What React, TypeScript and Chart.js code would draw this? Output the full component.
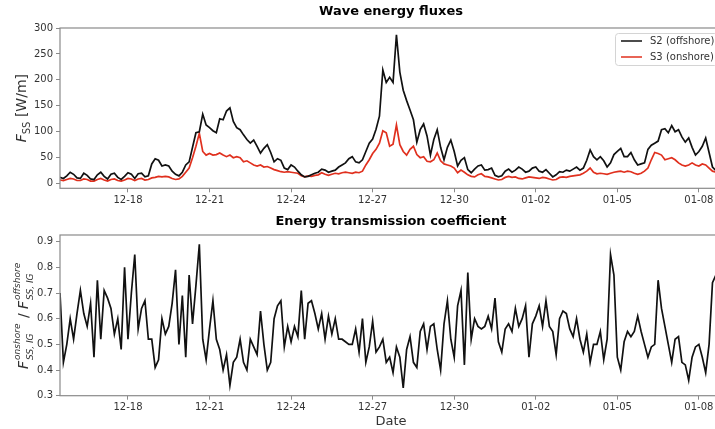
import React, { useEffect, useRef } from 'react';
import { Chart, registerables } from 'chart.js';

Chart.register(...registerables);

// ---- data (time in days since 12-15 00:00, 3-hour sampling) ----
const START_DAY = 0.5;
const STEP_DAYS = 0.125;
const X_MIN = 0.5;
const X_MAX = 24.85;

const tickDays = [3, 6, 9, 12, 15, 18, 21, 24];
const tickLabels = ['12-18', '12-21', '12-24', '12-27', '12-30', '01-02', '01-05', '01-08'];

const fluxTicks = [0, 50, 100, 150, 200, 250, 300];
const coefTicks = [0.3, 0.4, 0.5, 0.6, 0.7, 0.8, 0.9];

const s2Offshore = [
  12, 10, 15, 22, 18, 11, 10, 20, 16, 9,
  8, 17, 22, 14, 9, 18, 20, 12, 8, 14,
  21, 18, 10, 19, 20, 13, 15, 38, 48, 45,
  34, 36, 34, 24, 18, 15, 22, 36, 42, 70,
  98, 100, 134, 113, 108, 102, 98, 125, 123, 140,
  146, 120, 108, 104, 94, 85, 78, 84, 72, 59,
  68, 75, 60, 42, 48, 45, 30, 27, 36, 32,
  24, 17, 13, 14, 17, 20, 22, 28, 26, 22,
  24, 26, 32, 36, 40, 48, 52, 42, 40, 46,
  62, 78, 86, 105, 130, 219, 195, 205, 195, 287,
  215, 180, 160, 142, 123, 80, 104, 115, 92, 55,
  85, 104, 70, 46, 70, 84, 62, 34, 45, 50,
  27, 21, 28, 34, 36, 26, 27, 30, 16, 13,
  15, 24, 28, 22, 26, 32, 28, 22, 24, 30,
  32, 24, 22, 27, 20, 13, 17, 23, 22, 26,
  24, 28, 32, 26, 30, 45, 65, 52, 46, 52,
  44, 32, 40, 56, 62, 68, 52, 52, 60, 46,
  36, 38, 40, 66, 74, 78, 82, 104, 106, 98,
  112, 100, 104, 90, 80, 88, 70, 55, 62, 72,
  88, 60, 32, 25, 22, 20,
];

const s3Onshore = [
  7, 6, 8, 10, 9, 6, 6, 9, 8, 5,
  5, 8, 10, 7, 5, 8, 9, 6, 5, 7,
  10, 9, 6, 9, 10, 7, 8, 11, 12, 14,
  13, 14, 13, 10, 8, 9, 14, 22, 30, 50,
  72, 97, 62, 55, 58, 55, 56, 59, 55, 52,
  55, 50, 52, 50, 42, 44, 40, 36, 34, 36,
  32, 33, 30, 27, 25, 23, 22, 23, 22, 21,
  20, 15, 13, 15, 14, 16, 17, 21, 18, 16,
  18, 20, 19, 21, 22, 21, 20, 22, 21, 24,
  36, 46, 58, 66, 78, 102, 98, 72, 76, 113,
  75, 62, 55, 66, 72, 56, 50, 52, 43, 42,
  46, 59, 44, 38, 36, 34, 30, 21, 26, 22,
  17, 14, 13, 17, 19, 14, 13, 11, 9, 7,
  8, 12, 14, 12, 13, 10, 9, 11, 13, 12,
  11, 10, 12, 11, 9, 7, 8, 12, 13, 12,
  14, 15, 16, 17, 20, 24, 30, 22, 19, 20,
  19, 18, 20, 22, 23, 24, 22, 24, 23, 20,
  18, 20, 24, 30, 46, 60, 58, 55, 46, 48,
  50, 46, 40, 36, 34, 36, 40, 36, 34, 38,
  36, 30, 24, 22, 23, 24,
];

const transmission = [
  0.70, 0.43, 0.50, 0.60, 0.52, 0.62, 0.71, 0.62, 0.57, 0.66,
  0.45, 0.75, 0.52, 0.71, 0.68, 0.64, 0.54, 0.60, 0.48, 0.80,
  0.52, 0.70, 0.85, 0.56, 0.64, 0.67, 0.52, 0.52, 0.41, 0.44,
  0.60, 0.54, 0.57, 0.66, 0.79, 0.50, 0.69, 0.45, 0.77, 0.58,
  0.73, 0.89, 0.52, 0.44, 0.56, 0.67, 0.52, 0.48, 0.40, 0.46,
  0.34, 0.43, 0.45, 0.52, 0.43, 0.40, 0.52, 0.49, 0.46, 0.63,
  0.50, 0.40, 0.43, 0.60, 0.65, 0.67, 0.49, 0.57, 0.51, 0.57,
  0.53, 0.71, 0.52, 0.66, 0.67, 0.62, 0.56, 0.62, 0.52, 0.61,
  0.54, 0.60, 0.52, 0.52, 0.51, 0.50, 0.50, 0.56, 0.47, 0.60,
  0.43, 0.49, 0.59, 0.47, 0.49, 0.52, 0.43, 0.45, 0.39, 0.49,
  0.45, 0.33, 0.48, 0.53, 0.43, 0.41, 0.55, 0.58, 0.48, 0.57,
  0.58, 0.48, 0.40, 0.58, 0.67, 0.52, 0.45, 0.65, 0.71, 0.42,
  0.78, 0.52, 0.60, 0.57, 0.56, 0.57, 0.61, 0.56, 0.68, 0.51,
  0.47, 0.56, 0.58, 0.55, 0.64, 0.57, 0.60, 0.65, 0.45, 0.58,
  0.61, 0.65, 0.57, 0.67, 0.57, 0.55, 0.46, 0.60, 0.63, 0.62,
  0.56, 0.53, 0.60, 0.52, 0.47, 0.54, 0.43, 0.50, 0.50, 0.55,
  0.44, 0.52, 0.85, 0.77, 0.45, 0.40, 0.51, 0.55, 0.53, 0.55,
  0.61, 0.55, 0.50, 0.45, 0.49, 0.50, 0.75, 0.64, 0.57, 0.50,
  0.43, 0.52, 0.53, 0.43, 0.42, 0.36, 0.45, 0.49, 0.50, 0.45,
  0.39, 0.50, 0.74, 0.77, 0.76, 0.75,
];

const times = s2Offshore.map((_, i) => START_DAY + i * STEP_DAYS);
const toPoints = (vals: number[]) => vals.map((v, i) => ({ x: times[i], y: v }));

// ---- styling ----
const FONT = 'DejaVu Sans';
const AXIS_COLOR = '#8a8a8a';
const TEXT_COLOR = '#333';
const BLACK = '#111111';
const RED = '#e0301e';
const CANVAS_W = 745;
const PLOT_LEFT = 60;
const PAD_RIGHT = 23;

const framePlugin = {
  id: 'frame',
  afterDraw(chart: any) {
    const { ctx, chartArea: a } = chart;
    ctx.save();
    ctx.strokeStyle = AXIS_COLOR;
    ctx.lineWidth = 1.2;
    ctx.strokeRect(a.left, a.top, a.right - a.left, a.bottom - a.top);
    ctx.restore();
  },
};

function xScale(height: number, title?: string) {
  return {
    type: 'linear',
    min: X_MIN,
    max: X_MAX,
    afterBuildTicks: (s: any) => {
      s.ticks = tickDays.map((v) => ({ value: v }));
    },
    afterFit: (s: any) => {
      s.height = height;
    },
    ticks: {
      callback: (_v: any, i: number) => tickLabels[i],
      font: { family: FONT, size: 10 },
      color: TEXT_COLOR,
      padding: 2,
      maxRotation: 0,
      autoSkip: false,
    },
    grid: { drawOnChartArea: false, drawTicks: true, tickLength: 4, color: AXIS_COLOR, lineWidth: 1 },
    border: { display: false },
    title: title
      ? { display: true, text: title, font: { family: FONT, size: 13 }, color: TEXT_COLOR, padding: { top: 0, bottom: 0 } }
      : { display: false },
  };
}

function yScale(min: number, max: number, ticksArr: number[], fmt: (v: number) => string) {
  return {
    type: 'linear',
    min,
    max,
    afterBuildTicks: (s: any) => {
      s.ticks = ticksArr.map((v) => ({ value: v }));
    },
    afterFit: (s: any) => {
      s.width = PLOT_LEFT;
    },
    ticks: {
      callback: (v: any) => fmt(Number(v)),
      font: { family: FONT, size: 10 },
      color: TEXT_COLOR,
      padding: 3,
    },
    grid: { drawOnChartArea: false, drawTicks: true, tickLength: 4, color: AXIS_COLOR, lineWidth: 1 },
    border: { display: false },
  };
}

function lineDataset(label: string, vals: number[], color: string) {
  return {
    label,
    data: toPoints(vals),
    borderColor: color,
    backgroundColor: color,
    borderWidth: 1.7,
    pointRadius: 0,
    tension: 0,
  };
}

const fluxLabelPlugin = {
  id: 'fluxLabel',
  afterDraw(chart: any) {
    const { ctx, chartArea: a } = chart;
    const cy = (a.top + a.bottom) / 2;
    ctx.save();
    ctx.translate(26, cy);
    ctx.rotate(-Math.PI / 2);
    ctx.fillStyle = TEXT_COLOR;
    ctx.textBaseline = 'alphabetic';
    const fMain = `italic 14px "${FONT}"`;
    const fSub = `10px "${FONT}"`;
    const fRest = `14px "${FONT}"`;
    ctx.font = fMain;
    const w1 = ctx.measureText('F').width;
    ctx.font = fSub;
    const w2 = ctx.measureText('SS').width;
    ctx.font = fRest;
    const w3 = ctx.measureText(' [W/m]').width;
    let x = -(w1 + w2 + w3) / 2;
    ctx.font = fMain;
    ctx.fillText('F', x, 0);
    x += w1;
    ctx.font = fSub;
    ctx.fillText('SS', x, 4);
    x += w2;
    ctx.font = fRest;
    ctx.fillText(' [W/m]', x, 0);
    ctx.restore();
  },
};

const coefLabelPlugin = {
  id: 'coefLabel',
  afterDraw(chart: any) {
    const { ctx, chartArea: a } = chart;
    const cy = (a.top + a.bottom) / 2;
    ctx.save();
    ctx.translate(28, cy);
    ctx.rotate(-Math.PI / 2);
    ctx.fillStyle = TEXT_COLOR;
    ctx.textBaseline = 'alphabetic';
    const fMain = `italic 14px "${FONT}"`;
    const fScript = `italic 9px "${FONT}"`;
    const fSlash = `14px "${FONT}"`;
    const parts: { kind: string; text?: string; sup?: string; sub?: string }[] = [
      { kind: 'main', text: 'F' },
      { kind: 'stack', sup: 'onshore', sub: 'SS, IG' },
      { kind: 'slash', text: ' / ' },
      { kind: 'main', text: 'F' },
      { kind: 'stack', sup: 'offshore', sub: 'SS, IG' },
    ];
    const widths = parts.map((p) => {
      if (p.kind === 'stack') {
        ctx.font = fScript;
        return Math.max(ctx.measureText(p.sup!).width, ctx.measureText(p.sub!).width) + 1;
      }
      ctx.font = p.kind === 'main' ? fMain : fSlash;
      return ctx.measureText(p.text!).width + (p.kind === 'main' ? 1 : 0);
    });
    let x = -widths.reduce((s, w) => s + w, 0) / 2;
    parts.forEach((p, i) => {
      if (p.kind === 'stack') {
        ctx.font = fScript;
        ctx.fillText(p.sup!, x, -8);
        ctx.fillText(p.sub!, x, 5);
      } else {
        ctx.font = p.kind === 'main' ? fMain : fSlash;
        ctx.fillText(p.text!, x, 0);
      }
      x += widths[i];
    });
    ctx.restore();
  },
};

const legendPlugin = {
  id: 'insideLegend',
  afterDraw(chart: any) {
    const { ctx, chartArea: a } = chart;
    const boxW = 102;
    const boxH = 32;
    const left = a.right - 5 - boxW;
    const top = a.top + 5;
    ctx.save();
    ctx.fillStyle = 'rgba(255,255,255,0.85)';
    ctx.strokeStyle = '#d4d4d4';
    ctx.lineWidth = 1;
    ctx.beginPath();
    (ctx as any).roundRect(left + 0.5, top + 0.5, boxW, boxH, 3);
    ctx.fill();
    ctx.stroke();
    ctx.font = `10px "${FONT}"`;
    ctx.textBaseline = 'middle';
    ctx.fillStyle = TEXT_COLOR;
    chart.data.datasets.forEach((ds: any, i: number) => {
      const y = top + 8 + i * 16;
      ctx.strokeStyle = ds.borderColor;
      ctx.lineWidth = 1.5;
      ctx.beginPath();
      ctx.moveTo(left + 6, y);
      ctx.lineTo(left + 27, y);
      ctx.stroke();
      ctx.fillText(ds.label, left + 35, y);
    });
    ctx.restore();
  },
};

function ChartCanvas({ makeConfig, style, width, height }: any) {
  const ref = useRef<HTMLCanvasElement | null>(null);
  useEffect(() => {
    if (!ref.current) return;
    const chart = new Chart(ref.current, makeConfig());
    return () => chart.destroy();
  }, []);
  return <canvas ref={ref} width={width} height={height} style={{ position: 'absolute', width, height, ...style }} />;
}

function topConfig(): any {
  return {
    type: 'line',
    data: {
      datasets: [lineDataset('S2 (offshore)', s2Offshore, BLACK), lineDataset('S3 (onshore)', s3Onshore, RED)],
    },
    options: {
      responsive: false,
      animation: false,
      devicePixelRatio: 1,
      layout: { padding: { left: 0, right: PAD_RIGHT, top: 0, bottom: 0 } },
      scales: {
        x: xScale(23.7),
        y: yScale(-9, 300, fluxTicks, (v) => String(v)),
      },
      plugins: {
        legend: { display: false },
        tooltip: { enabled: false },
        title: {
          display: true,
          text: 'Wave energy fluxes',
          fullSize: false,
          font: { family: FONT, size: 13, weight: 'bold' },
          color: '#000',
          padding: { top: 4, bottom: 8.4 },
        },
      },
    },
    plugins: [framePlugin, fluxLabelPlugin, legendPlugin],
  };
}

function bottomConfig(): any {
  return {
    type: 'line',
    data: {
      datasets: [lineDataset('transmission', transmission, BLACK)],
    },
    options: {
      responsive: false,
      animation: false,
      devicePixelRatio: 1,
      layout: { padding: { left: 0, right: PAD_RIGHT, top: 0, bottom: 0 } },
      scales: {
        x: xScale(33.3, 'Date'),
        y: yScale(0.3, 0.926, coefTicks, (v) => v.toFixed(1)),
      },
      plugins: {
        legend: { display: false },
        tooltip: { enabled: false },
        title: {
          display: true,
          text: 'Energy transmission coefficient',
          fullSize: false,
          font: { family: FONT, size: 13, weight: 'bold' },
          color: '#000',
          padding: { top: 9.2, bottom: 5.2 },
        },
      },
    },
    plugins: [framePlugin, coefLabelPlugin],
  };
}

export default function App() {
  return (
    <div
      style={{
        position: 'fixed',
        left: 0,
        top: 0,
        width: 715,
        height: 429,
        overflow: 'hidden',
        background: '#fff',
      }}
    >
      <ChartCanvas makeConfig={topConfig} width={CANVAS_W} height={212} style={{ left: 0, top: 0 }} />
      <ChartCanvas makeConfig={bottomConfig} width={CANVAS_W} height={224} style={{ left: 0, top: 205 }} />
    </div>
  );
}
